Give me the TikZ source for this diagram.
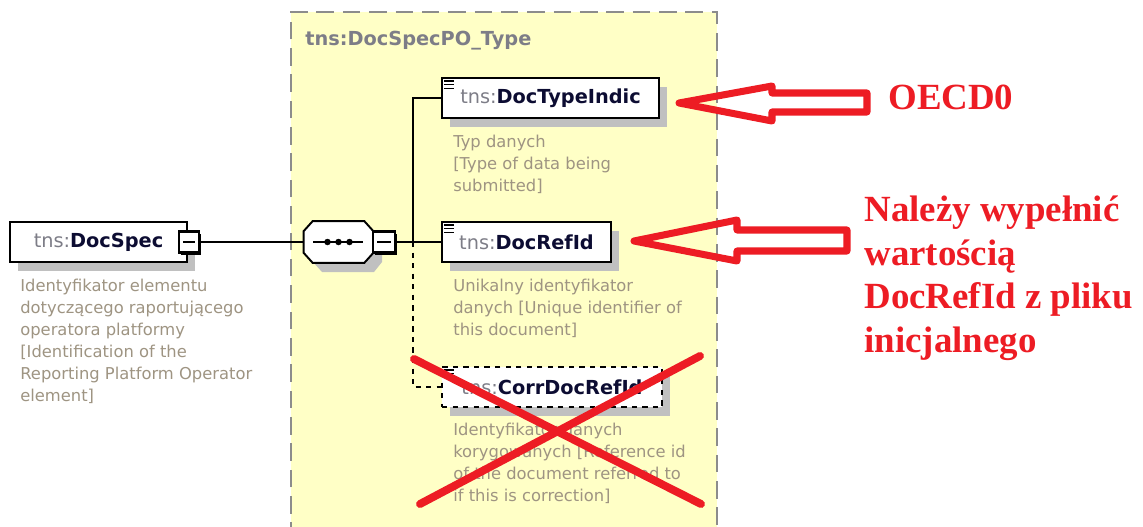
\documentclass[tikz,border=0pt]{standalone}
\usepackage{fontspec}
\setmainfont{DejaVu Sans}
\newfontfamily\notefont{Liberation Serif}
\usetikzlibrary{shadows}

\definecolor{boxyellow}{RGB}{255,255,198}
\definecolor{framegray}{RGB}{140,140,140}
\definecolor{tnsgray}{RGB}{125,125,135}
\definecolor{labelnavy}{RGB}{12,12,50}
\definecolor{descgray}{RGB}{158,148,130}
\definecolor{shadowgray}{RGB}{192,192,192}
\definecolor{notered}{RGB}{237,28,36}

\newcommand\elname[1]{{\color{tnsgray}tns:}{\bfseries\color{labelnavy}#1}}

\tikzset{
  shade/.style={drop shadow={shadow xshift=0.16cm, shadow yshift=-0.18cm, fill=shadowgray, opacity=1}},
  element/.style={draw, line width=1.1pt, fill=white, shade, minimum height=0.8cm,
    inner sep=0pt, font=\fontsize{11}{13}\selectfont},
  optelement/.style={element, dashed},
  collapse/.style={draw, line width=1.2pt, fill=white, minimum width=0.4cm, minimum height=0.42cm,
    inner sep=0pt, drop shadow={shadow xshift=0.045cm, shadow yshift=-0.045cm, fill=black, opacity=1},
    path picture={\draw[line width=0.8pt] ([xshift=0.08cm]path picture bounding box.west)
      -- ([xshift=-0.08cm]path picture bounding box.east);}},
  desc/.style={anchor=north west, inner sep=0pt, align=left, text=descgray,
    font=\fontsize{9.3}{12.5}\selectfont},
  note/.style={text=notered, inner sep=0pt, font=\notefont\bfseries\fontsize{21}{24.7}\selectfont},
  notearrow/.style={draw=notered, line width=4pt, line join=round},
  cross/.style={draw=notered, line width=4.5pt, line cap=round},
  conn/.style={line width=1pt},
}

\begin{document}
\begin{tikzpicture}[x=0.02cm, y=-0.02cm]
  \useasboundingbox (0,0) rectangle (1143,527);

  % complex type frame
  \fill[boxyellow] (291,12) rectangle (717,540);
  \draw[framegray, line width=1.1pt, dash pattern=on 10pt off 5pt] (291,540) -- (291,12) -- (717,12) -- (717,540);
  \node[anchor=base west, inner sep=0pt, text=tnsgray, font=\bfseries\fontsize{11}{13}\selectfont] (typename) at (305,46) {tns:DocSpecPO\_Type};

  % root element
  \node[element, minimum width=3.54cm] (docspec) at (98.5,242) {\elname{DocSpec}\hspace{0.3cm}};
  \node[collapse] (docspecbtn) at (189,242) {};
  \node[desc] (docspecdesc) at (20,279) {Identyfikator elementu\\dotyczącego raportującego\\operatora platformy\\{[}Identification of the\\Reporting Platform Operator\\element{]}};

  % sequence compositor
  \node[minimum width=1.38cm, minimum height=0.82cm, inner sep=0pt] (seq) at (338.5,242) {};
  \fill[shadowgray] (312,231) -- (374,231) -- (382,240) -- (382,262) -- (374,272) -- (322,272) -- (313,262) -- cycle;
  \draw[line width=1.1pt, fill=white] ([xshift=0.18cm]seq.north west) -- ([xshift=-0.18cm]seq.north east)
    -- ([yshift=-0.2cm]seq.north east) -- ([yshift=0.2cm]seq.south east) -- ([xshift=-0.18cm]seq.south east)
    -- ([xshift=0.18cm]seq.south west) -- ([yshift=0.2cm]seq.south west) -- ([yshift=-0.2cm]seq.north west) -- cycle;
  \draw[conn] ([xshift=-0.51cm]seq.center) -- ([xshift=0.49cm]seq.center);
  \foreach \dx in {-0.22,0,0.22}
    \fill ([xshift=\dx cm]seq.center) circle (0.065cm);
  \node[collapse, minimum width=0.44cm] (seqbtn) at (384,242) {};

  % children
  \node[element, minimum width=4.34cm] (typeindic) at (550.5,98) {\elname{DocTypeIndic}};
  \node[element, minimum width=3.38cm] (refid) at (526.5,242) {\elname{DocRefId}};
  \node[optelement, minimum width=4.4cm] (corrref) at (552,387) {\elname{CorrDocRefId}};
  \foreach \n in {typeindic,refid,corrref}
    \foreach \k in {0,1,2}
      \draw[line width=0.8pt] (\n.north west) ++(3,4+3.6*\k) -- ++(10,0);

  \node[desc] (typeindicdesc) at (453,135) {Typ danych\\{[}Type of data being\\submitted{]}};
  \node[desc] (refiddesc) at (453,279) {Unikalny identyfikator\\danych {[}Unique identifier of\\this document{]}};
  \node[desc] (corrrefdesc) at (453,423) {Identyfikator danych\\korygowanych {[}Reference id\\of the document referred to\\if this is correction{]}};

  % connectors
  \coordinate (branch) at (413,242);
  \draw[conn] (docspecbtn.east) -- (seq.west);
  \draw[conn] (seqbtn.east) -- (refid.west);
  \draw[conn] (branch) |- (typeindic.west);
  \draw[conn, dashed] (branch) |- (corrref.west);

  % annotations
  \draw[cross] (414,359) -- (701,504);
  \draw[cross] (420,504) -- (700,356);
  \draw[notearrow] (679,103) -- (772,86) -- (772,93) -- (867,93) -- (867,112) -- (772,112) -- (772,121) -- cycle;
  \draw[notearrow] (634,241) -- (737,220) -- (737,230) -- (847,230) -- (847,251) -- (737,251) -- (737,261) -- cycle;
  \node[note, anchor=base west] (oecd) at (888,110) {OECD0};
  \node[note, anchor=north west, align=left] (fillnote) at (864,196) {Należy wypełnić\\wartością\\DocRefId z pliku\\inicjalnego};
\end{tikzpicture}
\end{document}
